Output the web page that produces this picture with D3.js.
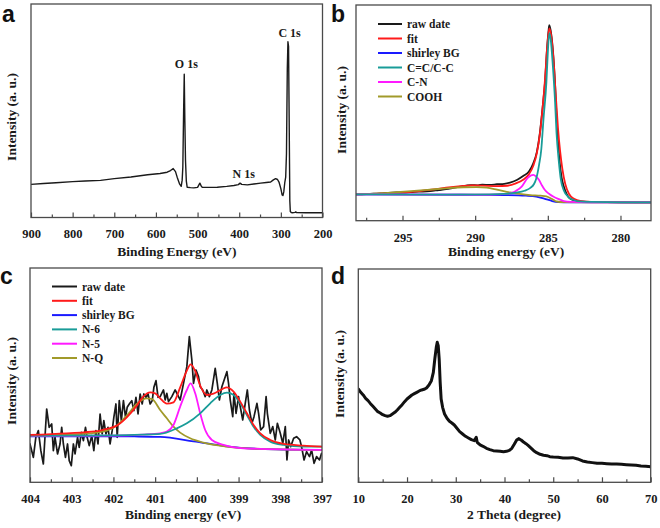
<!DOCTYPE html>
<html><head><meta charset="utf-8">
<script src="https://cdn.jsdelivr.net/npm/d3@7"></script>
<style>
body{margin:0;background:#fff}
svg{display:block}
text{font-family:"Liberation Serif","Times New Roman",serif;font-weight:bold;fill:#1a1a1a}
.plabel{font-family:"Liberation Sans",Arial,sans-serif;font-weight:bold;fill:#111}
</style>
</head><body>
<svg id="chart" width="660" height="528"></svg>
<script>
// ---------------- DATA ----------------
// (a) XPS survey: [binding energy eV, intensity a.u.]
const surveyData = [[900,15.5],[870,15.9],[840,16.3],[800,16.8],[770,17.1],[733,17.4],[700,18.2],[660,19.0],[620,20.0],[590,20.6],[573,21.2],[565,22.0],[558.5,22.9],[553,21.5],[549,18.9],[543,15.6],[539.3,14.6],[537,17.5],[535.4,23.6],[533.5,50],[532,67.1],[530.5,45],[529,26.8],[527,17],[525,14.2],[517,14.0],[509,13.9],[500,14.1],[494.5,16.1],[491,14.6],[488.8,14.2],[470,14.1],[452.7,14.2],[430,14.6],[412.7,15.0],[402,15.4],[398,16.1],[394,15.5],[380.5,15.3],[365,15.7],[348.5,16.1],[335,16.4],[324.5,16.6],[318,17.6],[312.5,18.2],[308,17.8],[304.5,16.6],[300,13.5],[297,10.6],[295,10.3],[293,12.0],[290.5,16.5],[288.4,18.9],[286.5,30],[284.5,70],[283,82.3],[281.5,80],[280,45],[278.5,8],[277.3,2.8],[275,2.3],[272.3,2.2],[266,2.4],[264.4,2.6],[262,2.3],[240,2.2],[200,2.2]];
const surveyPeaks = [{name:"O 1s", be:527, i:70},{name:"C 1s", be:279, i:84.5},{name:"N 1s", be:389, i:18.3}];
const surveyMajor = [900,800,700,600,500,400,300,200];
const surveyMinor = [850,750,650,550,450,350,250];

// (b) C 1s
const c1sRaw = [[298.2,12.2],[297.5,12.3],[297,12.5],[296.5,12.6],[296,12.9],[295.4,13.1],[294.8,13.0],[294.2,13.4],[293.6,13.5],[293.1,13.7],[292.5,14.2],[292,14.6],[291.5,15.2],[291,15.8],[290.6,16.3],[290.3,16.5],[289.8,16.4],[289.5,16.7],[289,16.6],[288.5,16.9],[288,17.1],[287.6,17.7],[287.1,19.0],[286.7,20.7],[286.3,22.8],[286.0,26.6],[285.75,32],[285.55,40.5],[285.35,53],[285.2,63.7],[285.05,80],[284.95,88],[284.9,90.7],[284.8,88],[284.65,79],[284.5,63],[284.4,48],[284.3,37],[284.2,28],[284.05,20],[283.9,15.8],[283.7,12.3],[283.5,10.4],[283.0,9.2],[282.6,8.8],[281,8.6],[279,8.5],[277.9,8.5]];
const c1sFit = [[298.2,12.2],[296,12.7],[295,13.0],[294,13.6],[293,14.4],[292,15.3],[291,16.0],[290.2,16.4],[289.5,16.3],[288.5,16.0],[287.8,16.2],[287.2,17.3],[286.7,19.0],[286.3,21.5],[286.0,25.5],[285.75,31.5],[285.55,40],[285.35,53],[285.2,65],[285.05,80],[284.9,89.2],[284.75,85],[284.6,74],[284.45,58],[284.3,43],[284.15,32],[284.0,24],[283.8,17],[283.55,12.5],[283.2,10.2],[282.7,9.1],[282,8.7],[280,8.5],[277.9,8.5]];
const c1sBG = [[298.2,12.2],[294,12.1],[290,12.0],[288,11.9],[286.5,11.6],[285.8,11.2],[285.3,10.4],[285.0,9.8],[284.7,9.1],[284.3,8.6],[283.5,8.5],[277.9,8.5]];
const c1sCC = [[298.2,12.2],[292,12.1],[289,12.2],[288,12.4],[287.2,13.0],[286.6,13.9],[286.2,15.2],[285.95,17],[285.8,19.5],[285.6,26],[285.45,33],[285.3,47],[285.1,64],[285.0,78],[284.9,86.9],[284.8,84],[284.65,71.4],[284.5,55],[284.4,40.6],[284.25,28],[284.1,18.9],[283.9,14],[283.6,11.1],[283.3,9.8],[283.0,9.1],[282,8.7],[280,8.5],[277.9,8.5]];
const c1sCN = [[298.2,12.2],[292,12.1],[289,12.1],[288,12.3],[287.5,12.9],[287.2,13.8],[286.8,15.8],[286.4,19.7],[286.15,21.0],[286.0,21.2],[285.8,20.4],[285.6,18.9],[285.4,16.3],[285.2,14.2],[284.9,12.4],[284.6,11.1],[284.2,9.9],[283.9,9.1],[283.4,8.7],[282,8.5],[277.9,8.5]];
const c1sCOOH = [[298.2,12.3],[296.5,12.6],[295.4,13.2],[294.2,13.8],[293.1,14.4],[292,15.0],[290.8,15.5],[289.9,15.6],[289.2,15.3],[288.5,14.4],[287.6,13.1],[286.8,12.3],[286.2,11.9],[285.5,11.6],[285.1,11.3],[284.7,10.0],[284.4,8.9],[283.8,8.6],[282,8.5],[277.9,8.5]];
const c1sNames = ["raw date","fit","shirley BG","C=C/C-C","C-N","COOH"];
const c1sMajor = [295,290,285,280];
const c1sMinor = [297.5,292.5,287.5,282.5];

// (c) N 1s
const n1sRaw = [[404.00,115],[403.92,75],[403.86,135],[403.80,155],[403.74,95],[403.68,55],[403.60,220],[403.54,165],[403.48,175],[403.44,95],[403.40,135],[403.34,85],[403.28,115],[403.24,165],[403.20,115],[403.15,75],[403.10,115],[403.06,65],[403.01,50],[402.96,115],[402.92,85],[402.86,135],[402.82,105],[402.77,150],[402.72,125],[402.67,165],[402.63,135],[402.58,110],[402.52,140],[402.47,95],[402.42,155],[402.37,115],[402.32,205],[402.27,145],[402.23,185],[402.18,145],[402.13,165],[402.08,115],[402.03,155],[401.99,195],[401.94,235],[401.91,135],[401.86,245],[401.81,185],[401.76,245],[401.71,195],[401.67,225],[401.62,235],[401.56,245],[401.51,215],[401.46,255],[401.41,205],[401.36,265],[401.31,235],[401.27,265],[401.22,255],[401.17,265],[401.12,235],[401.07,245],[401.03,285],[400.98,305],[400.93,255],[400.88,257],[400.80,277],[400.76,247],[400.72,267],[400.68,242],[400.60,257],[400.52,277],[400.44,257],[400.40,247],[400.32,297],[400.24,347],[400.18,437],[400.12,367],[400.08,297],[400.02,337],[399.96,317],[399.92,287],[399.86,277],[399.80,257],[399.76,277],[399.70,257],[399.64,277],[399.56,342],[399.51,297],[399.46,247],[399.40,287],[399.32,317],[399.28,332],[399.24,297],[399.20,247],[399.14,197],[399.11,267],[399.06,207],[399.00,257],[398.96,227],[398.90,187],[398.84,237],[398.79,277],[398.74,217],[398.68,177],[398.63,197],[398.56,237],[398.52,207],[398.47,157],[398.40,167],[398.34,257],[398.31,207],[398.24,147],[398.18,167],[398.12,127],[398.07,177],[398.00,147],[397.94,117],[397.88,167],[397.84,67],[397.80,127],[397.75,107],[397.68,132],[397.61,137],[397.53,127],[397.49,107],[397.43,67],[397.37,92],[397.30,77],[397.25,97],[397.19,57],[397.13,77],[397.06,67],[397.01,87]];
const n1sFit = [[404,142],[403.12,147],[402.72,150],[402.32,155],[402.16,160],[401.92,170],[401.68,195],[401.44,230],[401.28,258],[401.12,270],[401.0,267],[400.88,252],[400.72,236],[400.56,240],[400.40,285],[400.24,335],[400.15,354],[400.04,334],[399.92,290],[399.76,262],[399.60,266],[399.40,279],[399.28,285],[399.12,272],[398.96,242],[398.80,207],[398.64,172],[398.48,147],[398.24,127],[397.92,115],[397.45,110],[397.0,107]];
const n1sBG = [[404,138],[403,138],[402.08,138],[401.5,137.5],[400.88,136],[400.08,123],[399.28,108],[398.48,100],[397.9,98],[397,97]];
const n1sN6 = [[404,140],[402,141],[401.3,143],[400.88,145],[400.48,162],[400.24,177],[399.92,207],[399.68,237],[399.44,262],[399.28,269],[399.12,262],[398.96,237],[398.80,202],[398.64,167],[398.48,142],[398.24,122],[397.92,112],[397.45,107],[397.0,107]];
const n1sN5 = [[404,139],[402,140],[401.3,143],[400.88,147],[400.72,152],[400.56,172],[400.40,227],[400.24,277],[400.15,297],[400.04,267],[399.92,207],[399.80,157],[399.64,127],[399.36,112],[398.88,102],[397.0,97]];
const n1sNQ = [[404,140],[402.72,145],[402.16,155],[401.92,170],[401.68,200],[401.44,235],[401.2,252],[401.08,250],[400.88,217],[400.72,192],[400.56,167],[400.40,149],[400.16,132],[399.84,119],[399.28,107],[398.48,100],[397.0,97]];
const n1sNames = ["raw date","fit","shirley BG","N-6","N-5","N-Q"];
const n1sMajor = [404,403,402,401,400,399,398,397];
const n1sMinor = [403.5,402.5,401.5,400.5,399.5,398.5,397.5];

// (d) XRD: [2theta deg, intensity a.u.]
const xrdData = [[10.0,280],[10.5,270],[11.0,262],[11.5,252],[12.0,245],[12.5,236],[13.0,228],[13.5,220],[14.0,212],[14.5,208],[15.0,203],[15.5,200],[16.0,198],[16.5,200],[17.0,205],[17.5,210],[18.0,217],[18.5,225],[19.0,233],[19.5,242],[20.0,250],[20.5,256],[21.0,262],[21.5,266],[22.0,270],[22.5,274],[23.0,277],[23.5,279],[24.0,283],[24.5,292],[25.0,305],[25.4,330],[25.7,370],[26.0,405],[26.2,420],[26.4,410],[26.6,370],[26.8,300],[27.0,250],[27.3,225],[27.7,205],[28.2,192],[28.7,183],[29.2,178],[29.7,172],[30.2,163],[30.8,152],[31.4,145],[32.0,138],[32.6,133],[33.2,128],[33.8,125],[34.2,135],[34.4,120],[35.0,112],[35.6,108],[36.3,102],[37.0,98],[37.7,95],[38.4,94],[39.1,93],[39.8,92],[40.4,93],[41.0,96],[41.5,102],[42.0,114],[42.5,127],[42.9,131],[43.4,127],[43.9,121],[44.4,116],[44.9,110],[45.5,102],[46.0,95],[46.6,89],[47.3,84],[48.0,81],[48.7,80],[49.3,77],[50.0,76],[51.0,75],[52.0,73],[53.0,73],[54.0,74],[55.0,70],[56.0,64],[57.0,61],[58.0,59],[59.0,57],[60.0,57],[61.0,56],[62.0,55],[63.0,55],[64.0,54],[65.0,53],[66.0,52],[67.0,51],[68.0,49],[69.0,48],[70.0,47]];
const xrdMajor = [10,20,30,40,50,60,70];
const xrdMinor = [15,25,35,45,55,65];

// ---------------- DRAW ----------------
const COL = {raw:"#1a1a1a", fit:"#ff1a1a", bg:"#1a1aff", teal:"#199c98", mag:"#ff1aff", olive:"#a19a2a"};
const FRAME = "#4a4a4a";
const svg = d3.select("#chart");
const defs = svg.append("defs");

function drawPanel(p){
  const x = d3.scaleLinear().domain(p.xDomain).range([p.left, p.right]);
  const y = d3.scaleLinear().domain(p.yDomain).range([p.bottom, p.top]);
  const g = svg.append("g");
  const cid = "clip-" + p.id;
  defs.append("clipPath").attr("id", cid).append("rect")
    .attr("x", p.left).attr("y", p.top).attr("width", p.right - p.left).attr("height", p.bottom - p.top);
  const plot = g.append("g").attr("clip-path", `url(#${cid})`);
  p.series.forEach(s => {
    plot.append("path").datum(s.data)
      .attr("fill","none").attr("stroke", s.color).attr("stroke-width", s.width)
      .attr("stroke-linejoin","round").attr("stroke-linecap","round")
      .attr("d", d3.line().x(d => x(d[0])).y(d => y(d[1])).curve(s.curve || d3.curveLinear));
  });
  // axes
  const major = d3.axisBottom(x).tickValues(p.major).tickSizeInner(-5).tickSizeOuter(0).tickPadding(12).tickFormat(d3.format("d"));
  const ag = g.append("g").attr("transform", `translate(0,${p.bottom})`).call(major);
  ag.select(".domain").remove();
  ag.selectAll("line").attr("stroke", FRAME).attr("stroke-width", 1.2);
  ag.selectAll("text").style("font-size","12.5px");
  const minor = d3.axisBottom(x).tickValues(p.minor).tickSizeInner(-3).tickSizeOuter(0).tickFormat("");
  const mg = g.append("g").attr("transform", `translate(0,${p.bottom})`).call(minor);
  mg.select(".domain").remove();
  mg.selectAll("line").attr("stroke", FRAME).attr("stroke-width", 1.2);
  // frame
  g.append("rect").attr("x", p.left).attr("y", p.top).attr("width", p.right - p.left).attr("height", p.bottom - p.top)
    .attr("fill","none").attr("stroke", FRAME).attr("stroke-width", 1.3);
  // titles
  g.append("text").attr("x", p.xTitleX).attr("y", p.xTitleY).attr("text-anchor","middle").style("font-size","13.5px").text(p.xTitle);
  g.append("text").attr("transform", `translate(${p.yTitleX},${p.yTitleY}) rotate(-90)`).attr("text-anchor","middle").style("font-size","13.5px").text(p.yTitle);
  // panel letter
  g.append("text").attr("class","plabel").attr("x", p.letterX).attr("y", p.letterY).style("font-size","23px").text(p.id);
  // legend
  if (p.legend){
    const L = p.legend;
    L.names.forEach((n,i) => {
      const yy = L.y0 + i * L.dy;
      g.append("line").attr("x1", L.x1).attr("x2", L.x2).attr("y1", yy).attr("y2", yy)
        .attr("stroke", L.colors[i]).attr("stroke-width", 2);
      g.append("text").attr("x", L.x2 + 5).attr("y", yy).attr("dy","0.35em").style("font-size","11.5px").text(n);
    });
  }
  if (p.annot){
    p.annot.forEach(a => {
      g.append("text").attr("x", x(a.be)).attr("y", y(a.i)).attr("text-anchor","middle").style("font-size","12px").text(a.name);
    });
  }
}

const smooth = d3.curveMonotoneX;

drawPanel({
  id:"a", left:31, right:322.5, top:4, bottom:217.5,
  xDomain:[900,200], yDomain:[0,100], major:surveyMajor, minor:surveyMinor,
  series:[{data:surveyData, color:"#1a1a1a", width:1.4}],
  xTitle:"Binding Energy (eV)", xTitleX:177, xTitleY:256,
  yTitle:"Intensity (a. u.)", yTitleX:16, yTitleY:117,
  letterX:2, letterY:21.5, annot:surveyPeaks
});

drawPanel({
  id:"b", left:356, right:651, top:5, bottom:220.7,
  xDomain:[298.2,277.9], yDomain:[0,100], major:c1sMajor, minor:c1sMinor,
  series:[
    {data:c1sRaw, color:COL.raw, width:1.8, curve:smooth},
    {data:c1sFit, color:COL.fit, width:1.8, curve:smooth},
    {data:c1sBG, color:COL.bg, width:1.8, curve:smooth},
    {data:c1sCOOH, color:COL.olive, width:1.8, curve:smooth},
    {data:c1sCN, color:COL.mag, width:1.8, curve:smooth},
    {data:c1sCC, color:COL.teal, width:1.8, curve:smooth}
  ],
  xTitle:"Binding energy (eV)", xTitleX:506, xTitleY:256,
  yTitle:"Intensity (a. u.)", yTitleX:345.5, yTitleY:110,
  letterX:331, letterY:21.5,
  legend:{names:c1sNames, colors:[COL.raw,COL.fit,COL.bg,COL.teal,COL.mag,COL.olive], x1:378, x2:402, y0:24, dy:14.5}
});

drawPanel({
  id:"c", left:30, right:322, top:268, bottom:482.3,
  xDomain:[404,397], yDomain:[0,643], major:n1sMajor, minor:n1sMinor,
  series:[
    {data:n1sRaw, color:COL.raw, width:1.7},
    {data:n1sBG, color:COL.bg, width:1.8, curve:smooth},
    {data:n1sNQ, color:COL.olive, width:1.8, curve:smooth},
    {data:n1sN5, color:COL.mag, width:1.8, curve:smooth},
    {data:n1sN6, color:COL.teal, width:1.8, curve:smooth},
    {data:n1sFit, color:COL.fit, width:1.8, curve:smooth}
  ],
  xTitle:"Binding energy (eV)", xTitleX:183, xTitleY:519,
  yTitle:"Intensity (a. u.)", yTitleX:15.5, yTitleY:381,
  letterX:0, letterY:284,
  legend:{names:n1sNames, colors:[COL.raw,COL.fit,COL.bg,COL.teal,COL.mag,COL.olive], x1:52, x2:77, y0:286.5, dy:14.3}
});

drawPanel({
  id:"d", left:358.3, right:650.7, top:269, bottom:482.3,
  xDomain:[10,70], yDomain:[0,640], major:xrdMajor, minor:xrdMinor,
  series:[{data:xrdData, color:"#111", width:3}],
  xTitle:"2 Theta (degree)", xTitleX:514, xTitleY:519,
  yTitle:"Intensity (a. u.)", yTitleX:344, yTitleY:374,
  letterX:331, letterY:284
});
</script>
</body></html>
